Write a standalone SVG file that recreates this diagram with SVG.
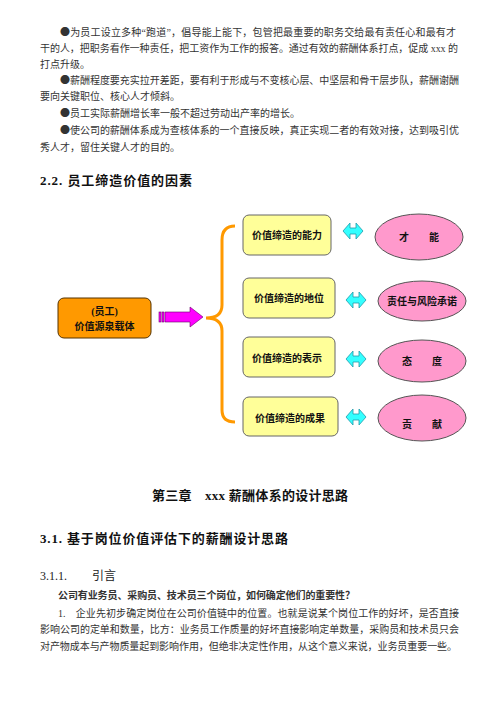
<svg xmlns="http://www.w3.org/2000/svg" width="500" height="707" viewBox="0 0 500 707">
<style>
.b{font-family:"Liberation Serif","Noto Sans CJK SC",serif;font-size:10px;fill:#333}
.h{font-family:"Liberation Serif","Noto Sans CJK SC",serif;font-size:13px;font-weight:bold;fill:#111}
.s{font-family:"Liberation Serif","Noto Sans CJK SC",serif;font-size:12px;fill:#222}
.t{font-family:"Liberation Serif","Noto Sans CJK SC",serif;font-size:10px;fill:#111;text-anchor:middle;font-weight:bold}
.bu{font-family:"Noto Sans CJK SC",sans-serif}
.yb{fill:#FFFF99;stroke:#666;stroke-width:1}
.el{fill:#FF99CC;stroke:#555;stroke-width:1}
.da{fill:#33FFFF;stroke:#2299AA;stroke-width:0.8}
</style>
<defs>
<path id="dbl" d="M0,0 L7,-8 L7,-3 L13,-3 L13,-8 L20,0 L13,8 L13,3 L7,3 L7,8 Z"/>
</defs>
<rect width="500" height="707" fill="#fff"/>
<g id="body-top">
<text class="b" x="60" y="36" textLength="396" lengthAdjust="spacing"><tspan class="bu">●</tspan>为员工设立多种“跑道”，倡导能上能下，包管把最重要的职务交给最有责任心和最有才</text>
<text class="b" x="40" y="52" textLength="418" lengthAdjust="spacing">干的人，把职务看作一种责任，把工资作为工作的报答。通过有效的薪酬体系打点，促成 xxx 的</text>
<text class="b" x="40" y="68">打点升级。</text>
<text class="b" x="60" y="84" textLength="399" lengthAdjust="spacing"><tspan class="bu">●</tspan>薪酬程度要充实拉开差距，要有利于形成与不变核心层、中坚层和骨干层步队，薪酬谢酬</text>
<text class="b" x="40" y="100">要向关键职位、核心人才倾斜。</text>
<text class="b" x="60" y="117"><tspan class="bu">●</tspan>员工实际薪酬增长率一般不超过劳动出产率的增长。</text>
<text class="b" x="60" y="134" textLength="399" lengthAdjust="spacing"><tspan class="bu">●</tspan>使公司的薪酬体系成为查核体系的一个直接反映，真正实现二者的有效对接，达到吸引优</text>
<text class="b" x="40" y="151">秀人才，留住关键人才的目的。</text>
</g>
<text class="h" x="40" y="185" textLength="152" lengthAdjust="spacing">2.2.  员工缔造价值的因素</text>
<g id="connectors">
<path d="M235,226 Q222,226 222,240 L222,305 Q222,318 206,318 Q222,318 222,331 L222,410 Q222,422 235,422" fill="none" stroke="#FF9900" stroke-width="3"/>
<g id="magenta-arrow" fill="#FF00FF" stroke="#660066" stroke-width="0.6">
<rect x="159" y="312" width="2" height="10"/>
<rect x="162" y="312" width="2" height="10"/>
<path d="M165,312 L190,312 L190,307 L203,317 L190,327 L190,322 L165,322 Z"/>
</g>
<use href="#dbl" class="da" transform="translate(343,231)"/>
<use href="#dbl" class="da" transform="translate(346,300)"/>
<use href="#dbl" class="da" transform="translate(346,359)"/>
<use href="#dbl" class="da" transform="translate(346,417)"/>
</g>
<g id="source">
<rect x="58" y="298" width="93" height="40" rx="6" fill="#FF9900" stroke="#553300" stroke-width="1"/>
<text class="t" x="104.5" y="315">(员工)</text>
<text class="t" x="104.5" y="330">价值源泉载体</text>
</g>
<g id="box1"><rect class="yb" x="243" y="215" width="88" height="40" rx="6"/><text class="t" x="287" y="239">价值缔造的能力</text></g>
<g id="box2"><rect class="yb" x="243" y="278" width="92" height="40" rx="6"/><text class="t" x="289" y="302">价值缔造的地位</text></g>
<g id="box3"><rect class="yb" x="243" y="337" width="92" height="40" rx="6"/><text class="t" x="287" y="362">价值缔造的表示</text></g>
<g id="box4"><rect class="yb" x="243" y="397" width="95" height="39" rx="6"/><text class="t" x="290" y="422">价值缔造的成果</text></g>
<g id="ell1"><ellipse class="el" cx="419" cy="237" rx="44" ry="23"/><text class="t" x="419" y="241">才　　能</text></g>
<g id="ell2"><ellipse class="el" cx="422" cy="301" rx="44" ry="20"/><text class="t" x="422" y="305">责任与风险承诺</text></g>
<g id="ell3"><ellipse class="el" cx="422" cy="361" rx="44" ry="21"/><text class="t" x="422" y="365">态　　度</text></g>
<g id="ell4"><ellipse class="el" cx="422" cy="418" rx="44" ry="23"/><text class="t" x="422" y="428">贡　　献</text></g>
<text class="h" x="152" y="500" textLength="196" lengthAdjust="spacing">第三章　xxx 薪酬体系的设计思路</text>
<text class="h" x="40" y="543" textLength="248" lengthAdjust="spacing">3.1.  基于岗位价值评估下的薪酬设计思路</text>
<text class="s" x="40" y="580">3.1.1.</text>
<text class="s" x="92" y="580">引言</text>
<text class="b" x="58" y="599" font-weight="bold" fill="#111" textLength="297" lengthAdjust="spacing">公司有业务员、采购员、技术员三个岗位，如何确定他们的重要性？</text>
<text class="b" x="58" y="617" textLength="401" lengthAdjust="spacing">1.　企业先初步确定岗位在公司价值链中的位置。也就是说某个岗位工作的好坏，是否直接</text>
<text class="b" x="40" y="633" textLength="419" lengthAdjust="spacing">影响公司的定单和数量，比方：业务员工作质量的好坏直接影响定单数量，采购员和技术员只会</text>
<text class="b" x="40" y="650" textLength="417" lengthAdjust="spacing">对产物成本与产物质量起到影响作用，但绝非决定性作用，从这个意义来说，业务员重要一些。</text>
</svg>
